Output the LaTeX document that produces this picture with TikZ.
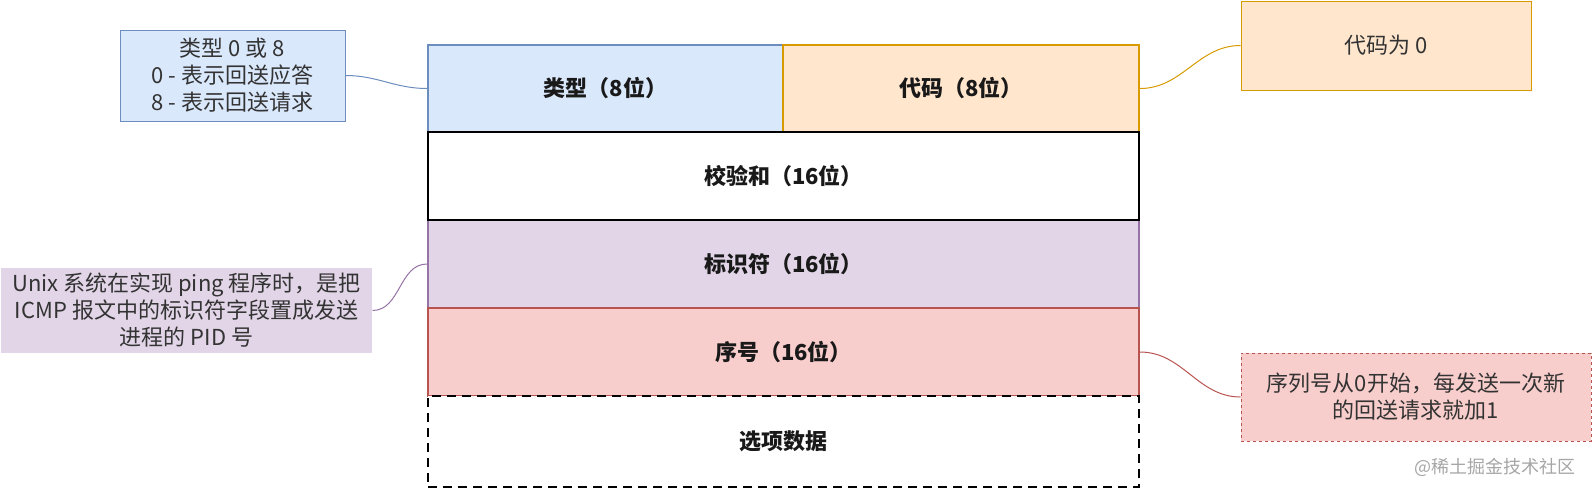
\documentclass[tikz,border=0pt]{standalone}
\usepackage{fontspec}
\setmainfont{Noto Sans CJK SC}
\definecolor{typefill}{HTML}{DAE8FC}
\definecolor{typeline}{HTML}{6C8EBF}
\definecolor{codefill}{HTML}{FFE6CC}
\definecolor{codeline}{HTML}{D79B00}
\definecolor{identfill}{HTML}{E1D5E7}
\definecolor{identline}{HTML}{9673A6}
\definecolor{seqfill}{HTML}{F8CECC}
\definecolor{seqline}{HTML}{B85450}

\begin{document}
\begin{tikzpicture}[x=1pt,y=-1pt,
  field/.style={draw,line width=2pt,inner sep=0pt,font=\fontsize{22}{26}\selectfont\bfseries,text=black!90},
  note/.style={align=center,inner sep=0pt,font=\fontsize{22}{27}\selectfont,text=black!80,line width=1pt},
  link/.style={line width=1pt}]
  \useasboundingbox (0,0) rectangle (1592,498);

  \node[field,fill=typefill,draw=typeline,minimum width=355pt,minimum height=87pt] (type) at (605.5,88.5) {类型（8位）};
  \node[field,fill=codefill,draw=codeline,minimum width=356pt,minimum height=87pt] (code) at (961,88.5) {代码（8位）};
  \node[field,fill=identfill,draw=identline,minimum width=711pt,minimum height=88pt] (ident) at (783.5,264) {标识符（16位）};
  \node[field,fill=seqfill,draw=seqline,minimum width=711pt,minimum height=88pt] (seq) at (783.5,352) {序号（16位）};
  \node[field,fill=white,draw=black,minimum width=711pt,minimum height=88pt] (checksum) at (783.5,176) {校验和（16位）};
  \node[field,fill=white,draw=black,dashed,dash pattern=on 9pt off 6pt,minimum width=711pt,minimum height=91pt] (options) at (783.5,441.5) {选项数据};

  \node[note,fill=typefill,draw=typeline,minimum width=225pt,minimum height=91pt] (typenote) at (232.5,75.5)
    {类型 0 或 8\\0 - 表示回送应答\\8 - 表示回送请求};
  \node[note,fill=codefill,draw=codeline,minimum width=290pt,minimum height=89pt] (codenote) at (1386,45.5)
    {代码为 0};
  \node[note,fill=identfill,minimum width=371pt,minimum height=85pt] (identnote) at (186.5,310.5)
    {Unix 系统在实现 ping 程序时，是把\\ICMP 报文中的标识符字段置成发送\\进程的 PID 号};
  \node[note,fill=seqfill,draw=seqline,dashed,minimum width=350pt,minimum height=88pt] (seqnote) at (1416,397)
    {序列号从0开始，每发送一次新\\的回送请求就加1};
  \node[font=\fontsize{18}{21}\selectfont,text=black!35] (watermark) at (1495,467) {@稀土掘金技术社区};

  \draw[link,typeline] (typenote.east) to[out=0,in=180] (type.west);
  \draw[link,codeline] (code.east) to[out=0,in=180] (codenote.west);
  \draw[link,identline] (identnote.east) to[out=0,in=180] (ident.west);
  \draw[link,seqline] (seq.east) to[out=0,in=180] (seqnote.west);
\end{tikzpicture}
\end{document}
